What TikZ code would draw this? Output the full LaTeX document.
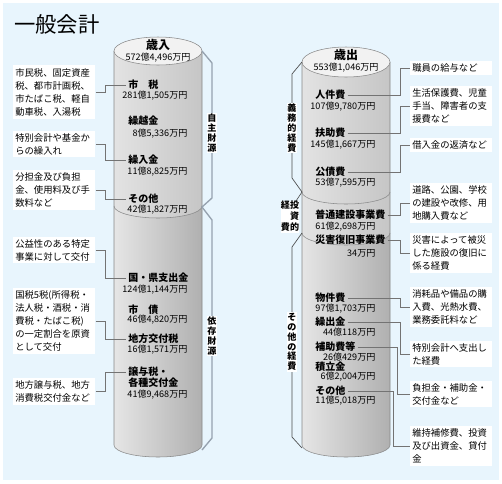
\documentclass[tikz,border=0pt]{standalone}
\usepackage{fontspec}
\setmainfont{Noto Sans CJK JP}
\usetikzlibrary{positioning}
\definecolor{bgblue}{RGB}{232,245,253}
\definecolor{brk}{RGB}{150,162,175}
\definecolor{cylline}{RGB}{135,135,135}

\begin{document}
\begin{tikzpicture}[x=0.75pt,y=-0.75pt,
  box/.style={fill=white,inner xsep=1.5pt,inner ysep=2pt,text width=58.5pt,align=left,anchor=west,
    font=\fontsize{7}{9.75}\selectfont},
  item/.style={inner sep=1.5pt,anchor=west,font=\fontsize{7.5}{9}\selectfont\bfseries},
  amt/.style={inner sep=1pt,anchor=east,font=\fontsize{6.8}{8}\selectfont},
  tag/.style={fill=white,inner sep=0.6pt,align=center,font=\fontsize{6.8}{7.4}\selectfont\bfseries},
  link/.style={draw=black!55,line width=0.4pt},
  upper/.style={left color=gray!22,middle color=gray!6,right color=gray!45},
  lower/.style={left color=gray!20,middle color=gray!12,right color=gray!62}]
\useasboundingbox (0,0) rectangle (502,483);
\fill[white] (0,0) rectangle (502,483);
\fill[bgblue] (3,3) rectangle (499,480);

\node[anchor=west,inner sep=0,font=\fontsize{16}{16}\selectfont] (title) at (14,24) {一般会計};

% left cylinder
\shade[upper] (114,51) -- (114,206) arc[start angle=180,end angle=0,x radius=44,y radius=12] -- (202,51) -- cycle;
\shade[lower] (114,206) arc[start angle=180,end angle=0,x radius=44,y radius=12] -- (202,445)
  arc[start angle=0,end angle=180,x radius=44,y radius=12] -- cycle;
\draw[cylline] (114,51) -- (114,445) arc[start angle=180,end angle=0,x radius=44,y radius=12] -- (202,51);
\draw[cylline] (114,206) arc[start angle=180,end angle=0,x radius=44,y radius=12];
\draw[cylline,fill=gray!10] (158,51) ellipse[x radius=44,y radius=14];
\draw[brk,line width=1pt] (202,51) -- (212,63) -- (212,198) -- (202,207) -- (212,220) -- (212,438) -- (202,450);
\node[tag] (jishu) at (212,133) {自\\主\\財\\源};
\node[tag] (izon) at (212,336) {依\\存\\財\\源};

\node[font=\fontsize{9}{10}\selectfont\bfseries,inner sep=1pt] (sainyu) at (158,45) {歳入};
\node[amt,anchor=center] (sainyu-v) at (158,58) {572億4,496万円};

\node[item] (shizei) at (126,85) {市　税};
\node[amt] (shizei-v) at (189,96) {281億1,505万円};
\node[item] (kurikoshi) at (126,121) {繰越金};
\node[amt] (kurikoshi-v) at (189,134) {8億5,336万円};
\node[item] (kuriire) at (126,160) {繰入金};
\node[amt] (kuriire-v) at (189,172) {11億8,825万円};
\node[item] (sonota1) at (126,199) {その他};
\node[amt] (sonota1-v) at (189,210) {42億1,827万円};
\node[item] (kokken) at (126,278) {国・県支出金};
\node[amt] (kokken-v) at (189,290) {124億1,144万円};
\node[item] (shisai) at (126,310) {市　債};
\node[amt] (shisai-v) at (189,320) {46億4,820万円};
\node[item] (chiho) at (126,339) {地方交付税};
\node[amt] (chiho-v) at (189,350) {16億1,571万円};
\node[item] (jouyo) at (126,372) {譲与税・};
\node[item] (kakushu) at (126,383) {各種交付金};
\node[amt] (jouyo-v) at (189,395) {41億9,468万円};

\node[box] (lb1) at (13,92) {市民税、固定資産\\税、都市計画税、\\市たばこ税、軽自\\動車税、入湯税};
\node[box] (lb2) at (13,144) {特別会計や基金か\\らの繰入れ};
\node[box] (lb3) at (13,190) {分担金及び負担\\金、使用料及び手\\数料など};
\node[box] (lb4) at (13,250) {公益性のある特定\\事業に対して交付};
\node[box] (lb5) at (13,321) {国税5税(所得税・\\法人税・酒税・消\\費税・たばこ税)\\の一定割合を原資\\として交付};
\node[box] (lb6) at (13,391) {地方譲与税、地方\\消費税交付金など};

\draw[link] (lb1.east) -- ++(10,0) |- (shizei.west);
\draw[link] (lb2.east) -- ++(10,0) |- (kuriire.west);
\draw[link] (lb3.east) -- ++(10,0) |- (sonota1.west);
\draw[link] (lb4.east) -- ++(10,0) |- (kokken.west);
\draw[link] (lb5.east) -- ++(10,0) |- (chiho.west);
\draw[link] (lb6.east) -- ++(10,0) |- (jouyo.west);

% right cylinder
\shade[upper] (302,62) -- (302,192) arc[start angle=180,end angle=0,x radius=44,y radius=12] -- (390,62) -- cycle;
\shade[upper] (302,192) arc[start angle=180,end angle=0,x radius=44,y radius=12] -- (390,233)
  arc[start angle=0,end angle=180,x radius=44,y radius=12] -- cycle;
\shade[lower] (302,233) arc[start angle=180,end angle=0,x radius=44,y radius=12] -- (390,445)
  arc[start angle=0,end angle=180,x radius=44,y radius=12] -- cycle;
\draw[cylline] (302,62) -- (302,445) arc[start angle=180,end angle=0,x radius=44,y radius=12] -- (390,62);
\draw[cylline] (302,192) arc[start angle=180,end angle=0,x radius=44,y radius=12];
\draw[cylline] (302,233) arc[start angle=180,end angle=0,x radius=44,y radius=12];
\draw[cylline,fill=gray!10] (346,62) ellipse[x radius=44,y radius=15];
\draw[black!70,line width=0.5pt] (302,62) -- (292,74) -- (292,178) -- (302,192) -- (296,201);
\draw[black!70,line width=0.5pt] (302,233) -- (292,247) -- (292,437) -- (302,448);
\node[tag] (gimu) at (292,128) {義\\務\\的\\経\\費};
\node[tag,inner sep=0.3pt] (toushi) at (290,217) {\begin{tabular}{@{}c@{}c@{}}経&投\\&資\\費&的\end{tabular}};
\node[tag] (sonota-k) at (292,342) {そ\\の\\他\\の\\経\\費};

\node[font=\fontsize{9}{10}\selectfont\bfseries,inner sep=1pt] (saishutsu) at (346,55) {歳出};
\node[amt,anchor=center] (saishutsu-v) at (346,68) {553億1,046万円};

\node[item] (jinken) at (313,95) {人件費};
\node[amt] (jinken-v) at (377,107) {107億9,780万円};
\node[item] (fujo) at (313,133) {扶助費};
\node[amt] (fujo-v) at (377,145) {145億1,667万円};
\node[item] (kousai) at (313,172) {公債費};
\node[amt] (kousai-v) at (377,183) {53億7,595万円};
\node[item] (futsu) at (313,215) {普通建設事業費};
\node[amt] (futsu-v) at (377,227) {61億2,698万円};
\node[item] (saigai) at (313,240) {災害復旧事業費};
\node[amt] (saigai-v) at (377,253) {34万円};
\node[item] (bukken) at (313,298) {物件費};
\node[amt] (bukken-v) at (377,309) {97億1,703万円};
\node[item] (kuridashi) at (313,322) {繰出金};
\node[amt] (kuridashi-v) at (377,332) {44億118万円};
\node[item] (hojo) at (313,347) {補助費等};
\node[amt] (hojo-v) at (377,357) {26億429万円};
\node[item] (tsumitate) at (313,367) {積立金};
\node[amt] (tsumitate-v) at (377,377) {6億2,004万円};
\node[item] (sonota2) at (313,391) {その他};
\node[amt] (sonota2-v) at (377,401) {11億5,018万円};

\node[box] (rb1) at (410,68) {職員の給与など};
\node[box] (rb2) at (410,106) {生活保護費、児童\\手当、障害者の支\\援費など};
\node[box] (rb3) at (410,145) {借入金の返済など};
\node[box] (rb4) at (410,203) {道路、公園、学校\\の建設や改修、用\\地購入費など};
\node[box] (rb5) at (410,253) {災害によって被災\\した施設の復旧に\\係る経費};
\node[box] (rb6) at (410,307) {消耗品や備品の購\\入費、光熱水費、\\業務委託料など};
\node[box] (rb7) at (410,354) {特別会計へ支出し\\た経費};
\node[box] (rb8) at (410,394) {負担金・補助金・\\交付金など};
\node[box] (rb9) at (410,446) {維持補修費、投資\\及び出資金、貸付\\金};

\draw[link] (jinken.east) -| ([xshift=-7.5pt]rb1.west) -- (rb1.west);
\draw[link] (fujo.east) -| ([xshift=-7.5pt]rb2.west) -- (rb2.west);
\draw[link] (kousai.east) -| ([xshift=-7.5pt]rb3.west) -- (rb3.west);
\draw[link] (futsu.east) -| ([xshift=-7.5pt]rb4.west) -- (rb4.west);
\draw[link] (saigai.east) -| ([xshift=-7.5pt]rb5.west) -- (rb5.west);
\draw[link] (bukken.east) -| ([xshift=-7.5pt]rb6.west) -- (rb6.west);
\draw[link] (kuridashi.east) -| ([xshift=-7.5pt]rb7.west) -- (rb7.west);
\draw[link] (hojo.east) -| ([xshift=-9.75pt]rb8.west) -- (rb8.west);
\draw[link] (sonota2.east) -| ([xshift=-12.75pt]rb9.west) -- (rb9.west);
\end{tikzpicture}
\end{document}
